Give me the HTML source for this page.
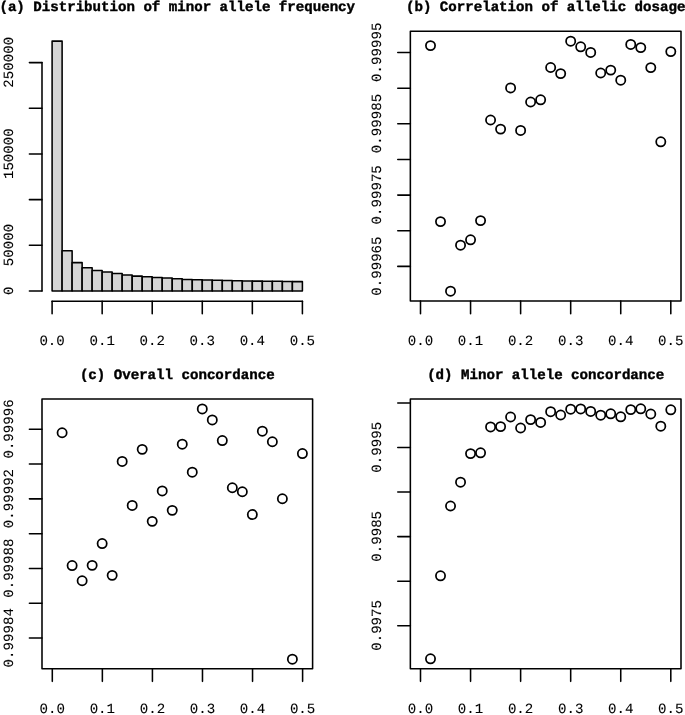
<!DOCTYPE html>
<html lang="en">
<head>
<meta charset="utf-8">
<title>Imputation accuracy plots</title>
<style>
html,body{margin:0;padding:0;background:#fff;}
svg{display:block;will-change:transform;text-rendering:geometricPrecision;}
svg text{font-family:"Liberation Mono", "DejaVu Sans Mono", monospace;font-size:14.11px;fill:#000;text-anchor:middle;}
svg text{stroke:#000;stroke-width:0.1px;}
svg text.b{font-weight:bold;stroke-width:0.4px;}
svg line, svg rect, svg circle{stroke:#000;stroke-width:1.55;}
svg line{stroke-linecap:round;}
svg rect{stroke-linejoin:round;}
svg .bar rect{fill:#d5d5d5;}
svg .pt circle{fill:none;stroke-width:1.75;}
</style>
</head>
<body>
<svg width="685" height="715" viewBox="0 0 685 715">
<rect x="0" y="0" width="685" height="715" fill="#fff" stroke="none" style="stroke:none"/>
<text x="177.25" y="11.20" class="b">(a) Distribution of minor allele frequency</text>
<g class="bar">
<rect x="52.10" y="41.10" width="10.012" height="249.90"/>
<rect x="62.11" y="250.80" width="10.012" height="40.20"/>
<rect x="72.12" y="262.60" width="10.012" height="28.40"/>
<rect x="82.14" y="267.80" width="10.012" height="23.20"/>
<rect x="92.15" y="270.40" width="10.012" height="20.60"/>
<rect x="102.16" y="272.00" width="10.012" height="19.00"/>
<rect x="112.17" y="273.50" width="10.012" height="17.50"/>
<rect x="122.18" y="275.00" width="10.012" height="16.00"/>
<rect x="132.20" y="276.10" width="10.012" height="14.90"/>
<rect x="142.21" y="276.80" width="10.012" height="14.20"/>
<rect x="152.22" y="277.40" width="10.012" height="13.60"/>
<rect x="162.23" y="278.00" width="10.012" height="13.00"/>
<rect x="172.24" y="278.80" width="10.012" height="12.20"/>
<rect x="182.26" y="279.40" width="10.012" height="11.60"/>
<rect x="192.27" y="279.80" width="10.012" height="11.20"/>
<rect x="202.28" y="280.00" width="10.012" height="11.00"/>
<rect x="212.29" y="280.20" width="10.012" height="10.80"/>
<rect x="222.30" y="280.50" width="10.012" height="10.50"/>
<rect x="232.32" y="280.70" width="10.012" height="10.30"/>
<rect x="242.33" y="280.90" width="10.012" height="10.10"/>
<rect x="252.34" y="281.10" width="10.012" height="9.90"/>
<rect x="262.35" y="281.20" width="10.012" height="9.80"/>
<rect x="272.36" y="281.30" width="10.012" height="9.70"/>
<rect x="282.38" y="281.50" width="10.012" height="9.50"/>
<rect x="292.39" y="281.60" width="10.012" height="9.40"/>
</g>
<line x1="52.10" y1="301.15" x2="302.40" y2="301.15"/>
<line x1="52.10" y1="301.15" x2="52.10" y2="313.75"/>
<text x="52.10" y="345.30">0.0</text>
<line x1="102.16" y1="301.15" x2="102.16" y2="313.75"/>
<text x="102.16" y="345.30">0.1</text>
<line x1="152.22" y1="301.15" x2="152.22" y2="313.75"/>
<text x="152.22" y="345.30">0.2</text>
<line x1="202.28" y1="301.15" x2="202.28" y2="313.75"/>
<text x="202.28" y="345.30">0.3</text>
<line x1="252.34" y1="301.15" x2="252.34" y2="313.75"/>
<text x="252.34" y="345.30">0.4</text>
<line x1="302.40" y1="301.15" x2="302.40" y2="313.75"/>
<text x="302.40" y="345.30">0.5</text>
<line x1="42.00" y1="62.60" x2="42.00" y2="291.00"/>
<line x1="29.40" y1="291.00" x2="42.00" y2="291.00"/>
<line x1="29.40" y1="245.32" x2="42.00" y2="245.32"/>
<line x1="29.40" y1="199.64" x2="42.00" y2="199.64"/>
<line x1="29.40" y1="153.96" x2="42.00" y2="153.96"/>
<line x1="29.40" y1="108.28" x2="42.00" y2="108.28"/>
<line x1="29.40" y1="62.60" x2="42.00" y2="62.60"/>
<text transform="translate(12.80,290.70) rotate(-90)">0</text>
<text transform="translate(12.80,245.02) rotate(-90)">50000</text>
<text transform="translate(12.80,153.66) rotate(-90)">150000</text>
<text transform="translate(12.80,62.30) rotate(-90)">250000</text>
<text x="545.70" y="11.20" class="b">(b) Correlation of allelic dosage</text>
<rect x="410.35" y="31.20" width="270.65" height="269.85" fill="none"/>
<line x1="420.50" y1="301.05" x2="420.50" y2="313.65"/>
<text x="420.50" y="345.30">0.0</text>
<line x1="470.56" y1="301.05" x2="470.56" y2="313.65"/>
<text x="470.56" y="345.30">0.1</text>
<line x1="520.62" y1="301.05" x2="520.62" y2="313.65"/>
<text x="520.62" y="345.30">0.2</text>
<line x1="570.68" y1="301.05" x2="570.68" y2="313.65"/>
<text x="570.68" y="345.30">0.3</text>
<line x1="620.74" y1="301.05" x2="620.74" y2="313.65"/>
<text x="620.74" y="345.30">0.4</text>
<line x1="670.80" y1="301.05" x2="670.80" y2="313.65"/>
<text x="670.80" y="345.30">0.5</text>
<line x1="397.75" y1="52.55" x2="410.35" y2="52.55"/>
<line x1="397.75" y1="88.19" x2="410.35" y2="88.19"/>
<line x1="397.75" y1="123.83" x2="410.35" y2="123.83"/>
<line x1="397.75" y1="159.47" x2="410.35" y2="159.47"/>
<line x1="397.75" y1="195.11" x2="410.35" y2="195.11"/>
<line x1="397.75" y1="230.75" x2="410.35" y2="230.75"/>
<line x1="397.75" y1="266.39" x2="410.35" y2="266.39"/>
<text transform="translate(381.00,52.25) rotate(-90)">0.99995</text>
<text transform="translate(381.00,123.53) rotate(-90)">0.99985</text>
<text transform="translate(381.00,194.81) rotate(-90)">0.99975</text>
<text transform="translate(381.00,266.09) rotate(-90)">0.99965</text>
<g class="pt">
<circle cx="430.51" cy="45.60" r="4.6"/>
<circle cx="440.52" cy="221.60" r="4.6"/>
<circle cx="450.54" cy="291.20" r="4.6"/>
<circle cx="460.55" cy="245.20" r="4.6"/>
<circle cx="470.56" cy="239.80" r="4.6"/>
<circle cx="480.57" cy="220.60" r="4.6"/>
<circle cx="490.58" cy="120.00" r="4.6"/>
<circle cx="500.60" cy="129.10" r="4.6"/>
<circle cx="510.61" cy="87.90" r="4.6"/>
<circle cx="520.62" cy="130.40" r="4.6"/>
<circle cx="530.63" cy="102.00" r="4.6"/>
<circle cx="540.64" cy="99.80" r="4.6"/>
<circle cx="550.66" cy="67.50" r="4.6"/>
<circle cx="560.67" cy="73.60" r="4.6"/>
<circle cx="570.68" cy="41.20" r="4.6"/>
<circle cx="580.69" cy="46.80" r="4.6"/>
<circle cx="590.70" cy="52.40" r="4.6"/>
<circle cx="600.72" cy="73.00" r="4.6"/>
<circle cx="610.73" cy="70.10" r="4.6"/>
<circle cx="620.74" cy="80.20" r="4.6"/>
<circle cx="630.75" cy="44.40" r="4.6"/>
<circle cx="640.76" cy="47.60" r="4.6"/>
<circle cx="650.78" cy="67.60" r="4.6"/>
<circle cx="660.79" cy="141.80" r="4.6"/>
<circle cx="670.80" cy="51.60" r="4.6"/>
</g>
<text x="177.25" y="378.50" class="b">(c) Overall concordance</text>
<rect x="42.00" y="398.95" width="270.60" height="269.80" fill="none"/>
<line x1="52.30" y1="668.75" x2="52.30" y2="681.35"/>
<text x="52.30" y="712.90">0.0</text>
<line x1="102.36" y1="668.75" x2="102.36" y2="681.35"/>
<text x="102.36" y="712.90">0.1</text>
<line x1="152.42" y1="668.75" x2="152.42" y2="681.35"/>
<text x="152.42" y="712.90">0.2</text>
<line x1="202.48" y1="668.75" x2="202.48" y2="681.35"/>
<text x="202.48" y="712.90">0.3</text>
<line x1="252.54" y1="668.75" x2="252.54" y2="681.35"/>
<text x="252.54" y="712.90">0.4</text>
<line x1="302.60" y1="668.75" x2="302.60" y2="681.35"/>
<text x="302.60" y="712.90">0.5</text>
<line x1="29.40" y1="429.25" x2="42.00" y2="429.25"/>
<line x1="29.40" y1="464.05" x2="42.00" y2="464.05"/>
<line x1="29.40" y1="498.85" x2="42.00" y2="498.85"/>
<line x1="29.40" y1="533.65" x2="42.00" y2="533.65"/>
<line x1="29.40" y1="568.45" x2="42.00" y2="568.45"/>
<line x1="29.40" y1="603.25" x2="42.00" y2="603.25"/>
<line x1="29.40" y1="638.05" x2="42.00" y2="638.05"/>
<text transform="translate(12.80,428.95) rotate(-90)">0.99996</text>
<text transform="translate(12.80,498.55) rotate(-90)">0.99992</text>
<text transform="translate(12.80,568.15) rotate(-90)">0.99988</text>
<text transform="translate(12.80,637.75) rotate(-90)">0.99984</text>
<g class="pt">
<circle cx="62.11" cy="432.75" r="4.6"/>
<circle cx="72.12" cy="565.55" r="4.6"/>
<circle cx="82.14" cy="580.75" r="4.6"/>
<circle cx="92.15" cy="565.35" r="4.6"/>
<circle cx="102.16" cy="543.55" r="4.6"/>
<circle cx="112.17" cy="575.35" r="4.6"/>
<circle cx="122.18" cy="461.45" r="4.6"/>
<circle cx="132.20" cy="505.45" r="4.6"/>
<circle cx="142.21" cy="449.35" r="4.6"/>
<circle cx="152.22" cy="521.35" r="4.6"/>
<circle cx="162.23" cy="490.95" r="4.6"/>
<circle cx="172.24" cy="510.35" r="4.6"/>
<circle cx="182.26" cy="444.15" r="4.6"/>
<circle cx="192.27" cy="472.15" r="4.6"/>
<circle cx="202.28" cy="408.95" r="4.6"/>
<circle cx="212.29" cy="419.95" r="4.6"/>
<circle cx="222.30" cy="440.55" r="4.6"/>
<circle cx="232.32" cy="487.75" r="4.6"/>
<circle cx="242.33" cy="491.75" r="4.6"/>
<circle cx="252.34" cy="514.55" r="4.6"/>
<circle cx="262.35" cy="431.15" r="4.6"/>
<circle cx="272.36" cy="441.75" r="4.6"/>
<circle cx="282.38" cy="498.75" r="4.6"/>
<circle cx="292.39" cy="659.15" r="4.6"/>
<circle cx="302.40" cy="453.55" r="4.6"/>
</g>
<text x="545.70" y="378.50" class="b">(d) Minor allele concordance</text>
<rect x="410.35" y="398.90" width="270.65" height="269.85" fill="none"/>
<line x1="420.50" y1="668.75" x2="420.50" y2="681.35"/>
<text x="420.50" y="712.90">0.0</text>
<line x1="470.56" y1="668.75" x2="470.56" y2="681.35"/>
<text x="470.56" y="712.90">0.1</text>
<line x1="520.62" y1="668.75" x2="520.62" y2="681.35"/>
<text x="520.62" y="712.90">0.2</text>
<line x1="570.68" y1="668.75" x2="570.68" y2="681.35"/>
<text x="570.68" y="712.90">0.3</text>
<line x1="620.74" y1="668.75" x2="620.74" y2="681.35"/>
<text x="620.74" y="712.90">0.4</text>
<line x1="670.80" y1="668.75" x2="670.80" y2="681.35"/>
<text x="670.80" y="712.90">0.5</text>
<line x1="397.75" y1="403.00" x2="410.35" y2="403.00"/>
<line x1="397.75" y1="447.54" x2="410.35" y2="447.54"/>
<line x1="397.75" y1="492.08" x2="410.35" y2="492.08"/>
<line x1="397.75" y1="536.62" x2="410.35" y2="536.62"/>
<line x1="397.75" y1="581.16" x2="410.35" y2="581.16"/>
<line x1="397.75" y1="625.70" x2="410.35" y2="625.70"/>
<text transform="translate(381.00,447.24) rotate(-90)">0.9995</text>
<text transform="translate(381.00,536.32) rotate(-90)">0.9985</text>
<text transform="translate(381.00,625.40) rotate(-90)">0.9975</text>
<g class="pt">
<circle cx="430.51" cy="658.80" r="4.6"/>
<circle cx="440.52" cy="575.80" r="4.6"/>
<circle cx="450.54" cy="506.00" r="4.6"/>
<circle cx="460.55" cy="482.20" r="4.6"/>
<circle cx="470.56" cy="453.60" r="4.6"/>
<circle cx="480.57" cy="452.80" r="4.6"/>
<circle cx="490.58" cy="426.90" r="4.6"/>
<circle cx="500.60" cy="426.60" r="4.6"/>
<circle cx="510.61" cy="417.00" r="4.6"/>
<circle cx="520.62" cy="428.00" r="4.6"/>
<circle cx="530.63" cy="419.60" r="4.6"/>
<circle cx="540.64" cy="422.40" r="4.6"/>
<circle cx="550.66" cy="411.70" r="4.6"/>
<circle cx="560.67" cy="415.00" r="4.6"/>
<circle cx="570.68" cy="409.20" r="4.6"/>
<circle cx="580.69" cy="408.90" r="4.6"/>
<circle cx="590.70" cy="411.40" r="4.6"/>
<circle cx="600.72" cy="415.20" r="4.6"/>
<circle cx="610.73" cy="413.80" r="4.6"/>
<circle cx="620.74" cy="416.80" r="4.6"/>
<circle cx="630.75" cy="409.60" r="4.6"/>
<circle cx="640.76" cy="408.80" r="4.6"/>
<circle cx="650.78" cy="414.00" r="4.6"/>
<circle cx="660.79" cy="426.20" r="4.6"/>
<circle cx="670.80" cy="409.80" r="4.6"/>
</g>
</svg>
</body>
</html>
